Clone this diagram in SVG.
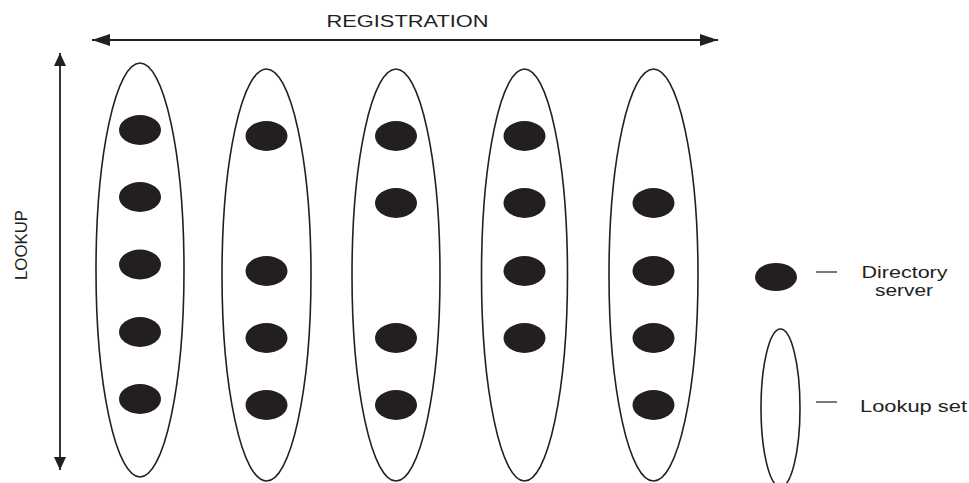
<svg xmlns="http://www.w3.org/2000/svg" width="969" height="483" viewBox="0 0 969 483">
<style>
.set{fill:none;stroke:#231f20;stroke-width:1.6}
.dot{fill:#231f20}
.axis{fill:none;stroke:#231f20;stroke-width:1.8}
.lbl{font-family:"Liberation Sans",Arial,Helvetica,sans-serif;fill:#231f20}
.leg{stroke:#231f20;stroke-width:1.2}
</style>
<defs>
<marker id="ahH" viewBox="0 0 18 12" refX="18" refY="6" markerWidth="18" markerHeight="12" markerUnits="userSpaceOnUse" orient="auto-start-reverse">
<path d="M0,0 L18,6 L0,12 z" fill="#231f20"/>
</marker>
<marker id="ahV" viewBox="0 0 13 12" refX="13" refY="6" markerWidth="13" markerHeight="12" markerUnits="userSpaceOnUse" orient="auto-start-reverse">
<path d="M0,0 L13,6 L0,12 z" fill="#231f20"/>
</marker>
</defs>
<rect width="969" height="483" fill="#fff"/>
<g id="connectors">
<line class="axis" x1="92" y1="40" x2="718" y2="40" marker-start="url(#ahH)" marker-end="url(#ahH)"/>
<line class="axis" x1="60" y1="53" x2="60" y2="470" marker-start="url(#ahV)" marker-end="url(#ahV)"/>
</g>
<g id="labels">
<text class="lbl" x="407.5" y="26.5" font-size="16.3" text-anchor="middle" textLength="162" lengthAdjust="spacingAndGlyphs">REGISTRATION</text>
<text class="lbl" font-size="16.3" text-anchor="middle" textLength="70" lengthAdjust="spacingAndGlyphs" transform="translate(26.7,245) rotate(-90)">LOOKUP</text>
</g>
<g id="set1">
<ellipse class="set" cx="140" cy="270" rx="44" ry="207"/>
<ellipse class="dot" cx="140" cy="130" rx="21" ry="15"/>
<ellipse class="dot" cx="140" cy="197" rx="21" ry="15"/>
<ellipse class="dot" cx="140" cy="264.5" rx="21" ry="15"/>
<ellipse class="dot" cx="140" cy="332" rx="21" ry="15"/>
<ellipse class="dot" cx="140" cy="399" rx="21" ry="15"/>
</g>
<g id="set2">
<ellipse class="set" cx="266.5" cy="275" rx="44.5" ry="206"/>
<ellipse class="dot" cx="266.5" cy="136" rx="21" ry="15"/>
<ellipse class="dot" cx="266.5" cy="271" rx="21" ry="15"/>
<ellipse class="dot" cx="266.5" cy="338" rx="21" ry="15"/>
<ellipse class="dot" cx="266.5" cy="405" rx="21" ry="15"/>
</g>
<g id="set3">
<ellipse class="set" cx="396" cy="275" rx="44" ry="206"/>
<ellipse class="dot" cx="396" cy="136" rx="21" ry="15"/>
<ellipse class="dot" cx="396" cy="203" rx="21" ry="15"/>
<ellipse class="dot" cx="396" cy="338" rx="21" ry="15"/>
<ellipse class="dot" cx="396" cy="405" rx="21" ry="15"/>
</g>
<g id="set4">
<ellipse class="set" cx="524.5" cy="275" rx="43" ry="206"/>
<ellipse class="dot" cx="524.5" cy="136" rx="21" ry="15"/>
<ellipse class="dot" cx="524.5" cy="203" rx="21" ry="15"/>
<ellipse class="dot" cx="524.5" cy="271" rx="21" ry="15"/>
<ellipse class="dot" cx="524.5" cy="338" rx="21" ry="15"/>
</g>
<g id="set5">
<ellipse class="set" cx="653.5" cy="275" rx="44.5" ry="206"/>
<ellipse class="dot" cx="653.5" cy="203" rx="21" ry="15"/>
<ellipse class="dot" cx="653.5" cy="271" rx="21" ry="15"/>
<ellipse class="dot" cx="653.5" cy="338" rx="21" ry="15"/>
<ellipse class="dot" cx="653.5" cy="405" rx="21" ry="15"/>
</g>
<g id="legend-server">
<ellipse class="dot" cx="776" cy="277" rx="21" ry="14"/>
<line class="leg" x1="816" y1="272" x2="837" y2="272"/>
<text class="lbl" x="904.5" y="277.5" font-size="17" text-anchor="middle" textLength="86" lengthAdjust="spacingAndGlyphs">Directory</text>
<text class="lbl" x="904" y="295.5" font-size="17" text-anchor="middle" textLength="58" lengthAdjust="spacingAndGlyphs">server</text>
</g>
<g id="legend-set">
<ellipse class="set" cx="780.5" cy="408" rx="19.5" ry="79"/>
<line class="leg" x1="816" y1="402" x2="837" y2="402"/>
<text class="lbl" x="860" y="411.5" font-size="17" textLength="107" lengthAdjust="spacingAndGlyphs">Lookup set</text>
</g>
</svg>
